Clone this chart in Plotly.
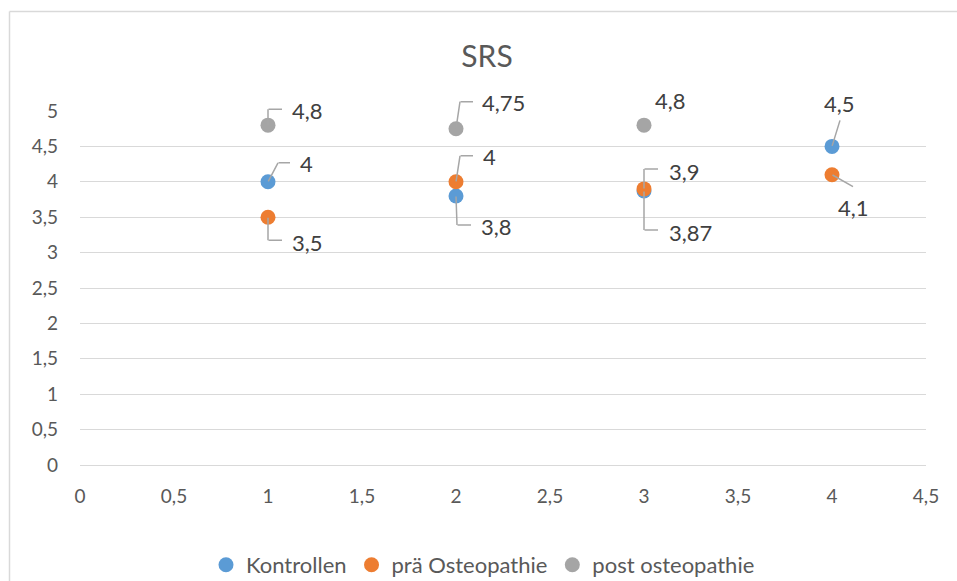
import plotly.graph_objects as go

# ---- data -------------------------------------------------------------
series_names = ["Kontrollen", "prä Osteopathie", "post osteopathie"]
series_colors = ["#5B9BD5", "#ED7D31", "#A5A5A5"]

kontrollen_x = [1, 2, 3, 4]
kontrollen_y = [4, 3.8, 3.87, 4.5]

prae_x = [1, 2, 3, 4]
prae_y = [3.5, 4, 3.9, 4.1]

post_x = [1, 2, 3]
post_y = [4.8, 4.75, 4.8]

x_ticks = [0, 0.5, 1, 1.5, 2, 2.5, 3, 3.5, 4, 4.5]
y_ticks = [0, 0.5, 1, 1.5, 2, 2.5, 3, 3.5, 4, 4.5, 5]

# ---- label placement (screen pixels, y pointing down) -----------------
# (text dx, text dy, text anchor, leader polyline)
kontrollen_lbl = [
    (30, -18, "left", [(0, 0), (10, -19), (22, -19)]),
    (23, 31, "left", [(0, 0), (1, 29), (15, 29)]),
    (23, 41, "left", [(0, 0), (0, 39), (14, 39)]),
    (7, -43, "center", [(0, 0), (8, -26)]),
]
prae_lbl = [
    (22, 25, "left", [(0, 0), (0, 23), (14, 23)]),
    (25, -25, "left", [(0, 0), (4, -26), (17, -26)]),
    (23, -17, "left", [(0, 0), (0, -20), (14, -20)]),
    (21, 33, "center", [(0, 0), (21, 12)]),
]
post_lbl = [
    (22, -15, "left", [(0, 0), (0, -16), (14, -16)]),
    (24, -26, "left", [(0, 0), (4, -27), (17, -27)]),
    (9, -25, "left", None),
]

FONT = "Lato"
TEXT_GREY = "#595959"
LABEL_GREY = "#404040"
LEADER = "#A6A6A6"
GRID = "#D9D9D9"

W, H = 957, 581
L, R, T, B = 80, 31, 111, 116
PW, PH = W - L - R, H - T - B


def fmt(v):
    return f"{v:g}".replace(".", ",")


def px2paper_x(px):
    return (px - L) / PW


def px2paper_y(py):
    return (H - B - py) / PH


fig = go.Figure()
annotations = []

groups = [
    (kontrollen_x, kontrollen_y, kontrollen_lbl),
    (prae_x, prae_y, prae_lbl),
    (post_x, post_y, post_lbl),
]

for (xs, ys, lbls), name, color in zip(groups, series_names, series_colors):
    fig.add_trace(go.Scatter(
        x=xs, y=ys, mode="markers", name=name,
        marker=dict(size=15, color=color, line=dict(width=0)),
        hoverinfo="skip",
    ))
    for xv, yv, (dx, dy, anchor, leader) in zip(xs, ys, lbls):
        annotations.append(dict(
            x=xv, y=yv, xref="x", yref="y", text=fmt(yv), showarrow=False,
            xanchor=anchor, yanchor="middle", xshift=dx, yshift=-dy,
            font=dict(family=FONT, size=22, color=LABEL_GREY),
        ))
        if not leader:
            continue
        # each leader segment is an arrow without head, anchored at the point
        for (ax0, ay0), (bx, by) in zip(leader[:-1], leader[1:]):
            annotations.append(dict(
                x=xv, y=yv, xref="x", yref="y", text="",
                showarrow=True, arrowhead=0, arrowwidth=1.5,
                arrowcolor=LEADER, standoff=0, startstandoff=0,
                borderpad=0, xshift=bx, yshift=-by,
                ax=ax0 - bx, ay=ay0 - by,
            ))

# chart-area frame (top and left edges)
shapes = [
    dict(type="line", xref="paper", yref="paper",
         x0=px2paper_x(9.5), x1=px2paper_x(1000),
         y0=px2paper_y(11.5), y1=px2paper_y(11.5),
         line=dict(color=GRID, width=1.5)),
    dict(type="line", xref="paper", yref="paper",
         x0=px2paper_x(9.5), x1=px2paper_x(9.5),
         y0=px2paper_y(11.5), y1=px2paper_y(700),
         line=dict(color=GRID, width=1.5)),
]

fig.update_layout(
    width=W, height=H,
    margin=dict(l=L, r=R, t=T, b=B, autoexpand=False),
    paper_bgcolor="white", plot_bgcolor="white",
    separators=",.",
    font=dict(family=FONT, color=TEXT_GREY),
    title=dict(text="SRS", x=487 / W, xanchor="center", xref="container",
               y=1 - 56 / H, yanchor="middle", yref="container",
               font=dict(family=FONT, size=30, color=TEXT_GREY)),
    xaxis=dict(range=[0, 4.5], tickvals=x_ticks, showgrid=False,
               zeroline=False, showline=True, linecolor=GRID, linewidth=1,
               ticks="", ticklabelstandoff=14,
               tickfont=dict(family=FONT, size=19, color=TEXT_GREY)),
    yaxis=dict(range=[0, 5], tickvals=y_ticks, showgrid=True,
               gridcolor=GRID, gridwidth=1, zeroline=False, showline=False,
               ticks="", ticklabelstandoff=21,
               tickfont=dict(family=FONT, size=19, color=TEXT_GREY)),
    legend=dict(orientation="h", x=px2paper_x(483), xanchor="center",
                y=px2paper_y(565), yanchor="middle",
                font=dict(family=FONT, size=22, color=TEXT_GREY),
                itemwidth=30, bgcolor="rgba(0,0,0,0)"),
    annotations=annotations,
    shapes=shapes,
    hovermode=False,
)

fig.write_html("out.html", config={"displayModeBar": False})
